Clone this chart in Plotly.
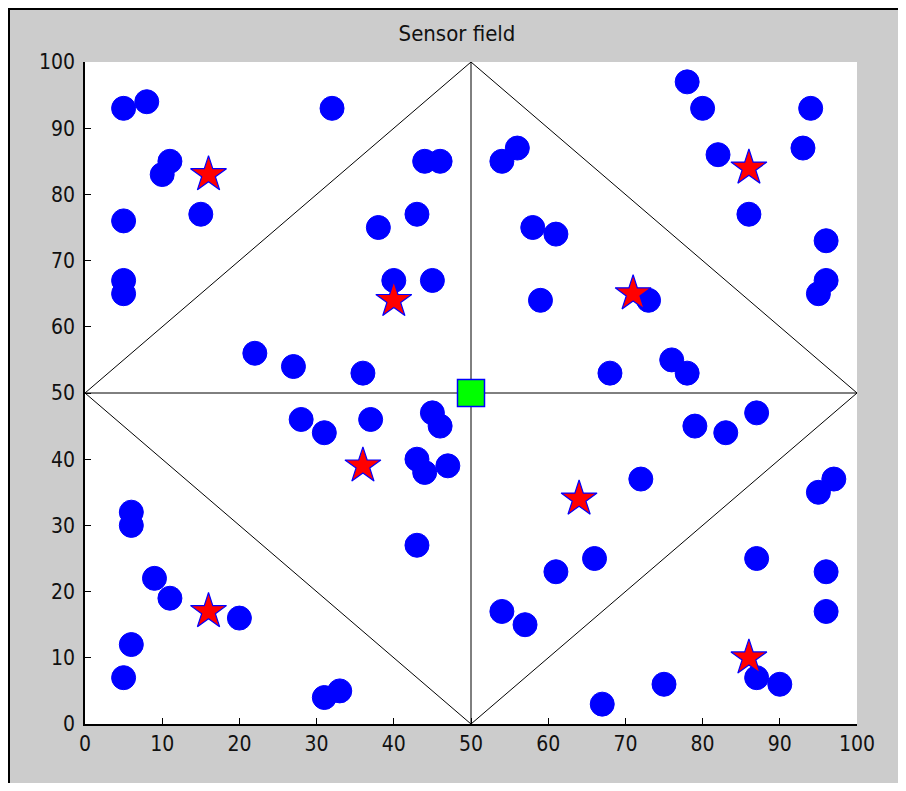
import plotly.graph_objects as go

# Sensor nodes (blue circles)
node_x = [5, 8, 32, 11, 10, 15, 5, 5, 5, 38, 43, 44, 46, 40, 45, 22, 27, 36,
          78, 80, 94, 93, 82, 56, 54, 86, 58, 61, 96, 96, 95, 59, 73, 68, 76, 78,
          28, 31, 37, 45, 46, 43, 44, 47, 43, 6, 6, 9, 11, 20, 6, 5, 31, 33,
          87, 79, 83, 72, 97, 95, 66, 61, 87, 96, 96, 54, 57, 87, 90, 75, 67]
node_y = [93, 94, 93, 85, 83, 77, 76, 67, 65, 75, 77, 85, 85, 67, 67, 56, 54, 53,
          97, 93, 93, 87, 86, 87, 85, 77, 75, 74, 73, 67, 65, 64, 64, 53, 55, 53,
          46, 44, 46, 47, 45, 40, 38, 39, 27, 32, 30, 22, 19, 16, 12, 7, 4, 5,
          47, 45, 44, 37, 37, 35, 25, 23, 25, 23, 17, 17, 15, 7, 6, 6, 3]

# Cluster heads (red stars)
head_x = [16, 40, 86, 71, 36, 16, 64, 86]
head_y = [83, 64, 84, 65, 39, 17, 34, 10]

# Sink / base station (green square)
sink_x = [50]
sink_y = [50]

# Region boundary lines
diamond_x = [0, 50, 100, 50, 0]
diamond_y = [50, 100, 50, 0, 50]
hline_x = [0, 100]
hline_y = [50, 50]
vline_x = [50, 50]
vline_y = [0, 100]

x_ticks = [0, 10, 20, 30, 40, 50, 60, 70, 80, 90, 100]
y_ticks = [0, 10, 20, 30, 40, 50, 60, 70, 80, 90, 100]

FONT = "DejaVu Sans Condensed, Liberation Sans Narrow, Liberation Sans, Arial, sans-serif"

fig = go.Figure()
line_style = dict(color="black", width=1)
fig.add_trace(go.Scatter(x=diamond_x, y=diamond_y, mode="lines", line=line_style))
fig.add_trace(go.Scatter(x=hline_x, y=hline_y, mode="lines", line=line_style))
fig.add_trace(go.Scatter(x=vline_x, y=vline_y, mode="lines", line=line_style))
fig.add_trace(go.Scatter(x=node_x, y=node_y, mode="markers",
                         marker=dict(symbol="circle", size=24, color="#0000ff",
                                     line=dict(color="#0000ff", width=1))))
fig.add_trace(go.Scatter(x=head_x, y=head_y, mode="markers",
                         marker=dict(symbol="star", size=27, color="#ff0000",
                                     line=dict(color="#0000ff", width=1.2))))
fig.add_trace(go.Scatter(x=sink_x, y=sink_y, mode="markers",
                         marker=dict(symbol="square", size=27, color="#00ff00",
                                     line=dict(color="#0000ff", width=1.5))))

# page offset of the plot div (body margin) is 8 px
L, R, T, B = 77, 49, 54, 59
W, H = 898, 775
pw, ph = W - L - R, H - T - B

def px(x):
    return (x - L) / pw

def py(y):
    return (H - B - y) / ph

shapes = [
    dict(type="line", xref="paper", yref="paper", x0=px(1), x1=px(1), y0=py(H + 2), y1=py(0),
         line=dict(color="black", width=2)),
    dict(type="line", xref="paper", yref="paper", x0=px(0), x1=px(W + 2), y0=py(1), y1=py(1),
         line=dict(color="black", width=2)),
]

fig.update_layout(
    width=W, height=H,
    margin=dict(l=L, r=R, t=T, b=B),
    paper_bgcolor="#cccccc",
    plot_bgcolor="white",
    showlegend=False,
    shapes=shapes,
    title=dict(text="Sensor field", x=px(471 - 8), xanchor="center", y=1 - 25 / H, yanchor="middle",
               font=dict(family=FONT, size=22, color="#111111")),
    font=dict(family=FONT, size=21, color="#111111"),
)
fig.update_xaxes(range=[0, 100], tickvals=x_ticks, ticktext=[str(v) for v in x_ticks],
                 ticks="inside", ticklen=6, tickcolor="black", tickwidth=1,
                 showline=True, linecolor="black", linewidth=1.5, showgrid=False,
                 zeroline=False, mirror=False)
fig.update_yaxes(range=[0, 100], tickvals=y_ticks, ticktext=[str(v) for v in y_ticks],
                 ticks="inside", ticklen=6, tickcolor="black", tickwidth=1,
                 showline=True, linecolor="black", linewidth=1.5, showgrid=False,
                 zeroline=False, mirror=False, ticklabelstandoff=4)

fig.write_html("out.html")
